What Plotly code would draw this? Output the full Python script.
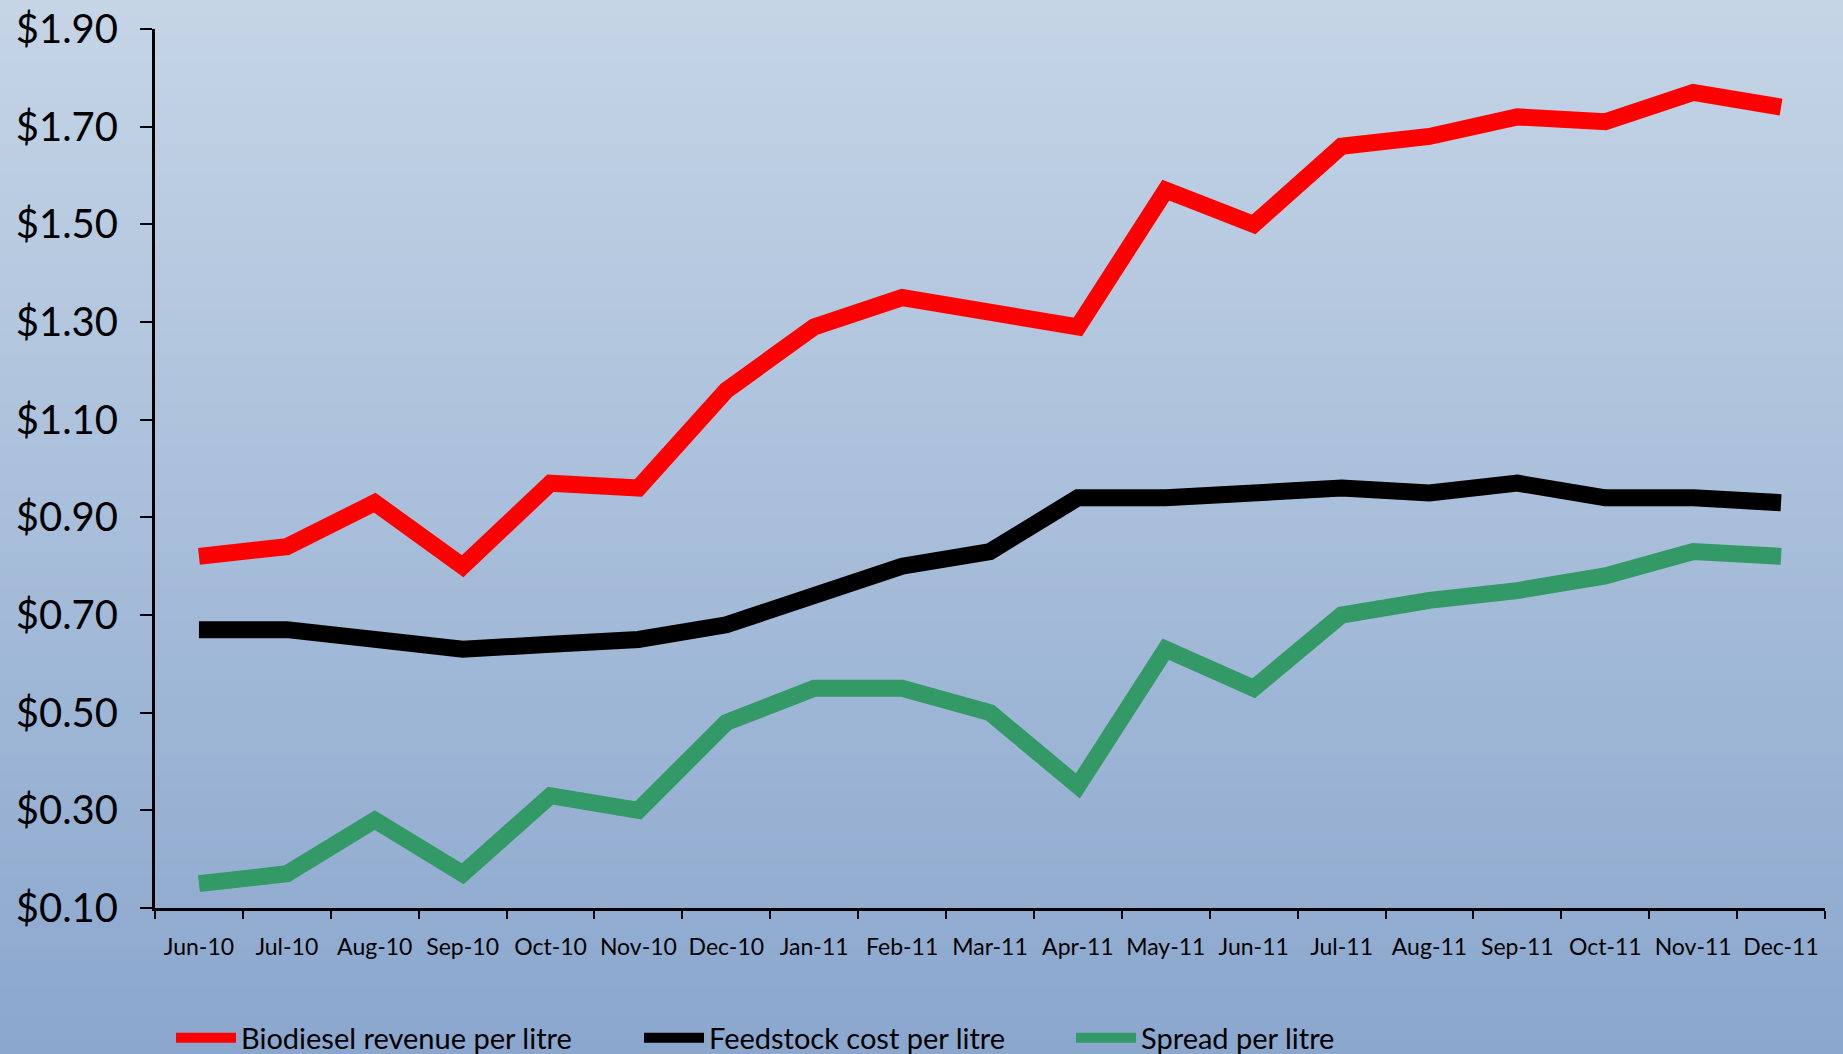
import plotly.graph_objects as go

months = ["Jun-10", "Jul-10", "Aug-10", "Sep-10", "Oct-10", "Nov-10", "Dec-10",
          "Jan-11", "Feb-11", "Mar-11", "Apr-11", "May-11", "Jun-11", "Jul-11",
          "Aug-11", "Sep-11", "Oct-11", "Nov-11", "Dec-11"]
revenue = [0.82, 0.84, 0.93, 0.80, 0.97, 0.96, 1.16, 1.29, 1.35, 1.32, 1.29,
           1.57, 1.50, 1.66, 1.68, 1.72, 1.71, 1.77, 1.74]
feedstock = [0.67, 0.67, 0.65, 0.63, 0.64, 0.65, 0.68, 0.74, 0.80, 0.83, 0.94,
             0.94, 0.95, 0.96, 0.95, 0.97, 0.94, 0.94, 0.93]
spread = [0.15, 0.17, 0.28, 0.17, 0.33, 0.30, 0.48, 0.55, 0.55, 0.50, 0.35,
          0.63, 0.55, 0.70, 0.73, 0.75, 0.78, 0.83, 0.82]
y_ticks = [0.10, 0.30, 0.50, 0.70, 0.90, 1.10, 1.30, 1.50, 1.70, 1.90]

W, H = 1843, 1054
L, R, T, B = 155, 18, 29, 146
pw, ph = W - L - R, H - T - B

FONT = "Lato"

fig = go.Figure()
series = [
    ("Biodiesel revenue per litre", revenue, "#FF0000", "legend", 176),
    ("Feedstock cost per litre", feedstock, "#000000", "legend2", 644),
    ("Spread per litre", spread, "#339966", "legend3", 1076),
]
for name, vals, col, lg, _ in series:
    fig.add_trace(go.Scatter(x=months, y=vals, mode="lines", name=name,
                             line=dict(color=col, width=17), legend=lg))

# gradient background
top = (197, 213, 230)
bot = (139, 167, 206)
n = 120
shapes = []
y_lo = -B / ph
y_hi = 1 + T / ph
for i in range(n):
    f = i / (n - 1)
    c = tuple(round(top[k] + (bot[k] - top[k]) * f) for k in range(3))
    y1 = y_hi - (y_hi - y_lo) * i / n
    y0 = y_hi - (y_hi - y_lo) * (i + 1) / n
    shapes.append(dict(type="rect", xref="paper", yref="paper",
                       x0=-L / pw - 0.01, x1=1 + R / pw + 0.01, y0=y0 - 0.002, y1=y1 + 0.002,
                       fillcolor="rgb(%d,%d,%d)" % c, line=dict(width=0), layer="below"))

leg_y = (H - B - 1038) / ph
legends = {}
for name, vals, col, lg, px in series:
    legends[lg] = dict(x=(px - L - 5) / pw, y=leg_y, xanchor="left", yanchor="middle",
                       orientation="h", bgcolor="rgba(0,0,0,0)",
                       font=dict(family=FONT, size=29, color="black"),
                       itemwidth=60, borderwidth=0)

fig.update_layout(
    width=W, height=H,
    margin=dict(l=L, r=R, t=T, b=B, pad=0, autoexpand=False),
    paper_bgcolor="rgb(170,190,218)",
    plot_bgcolor="rgba(0,0,0,0)",
    shapes=shapes,
    showlegend=True,
    xaxis=dict(type="category", range=[-0.5, len(months) - 0.5],
               showline=True, linecolor="black", linewidth=3,
               ticks="outside", tickson="boundaries", ticklen=8, tickwidth=2,
               tickcolor="black", showgrid=False, zeroline=False,
               tickangle=0,
               tickfont=dict(family=FONT, size=23, color="black"),
               ticklabelstandoff=16),
    yaxis=dict(range=[0.1, 1.9], tickvals=y_ticks, tickformat="$.2f",
               showline=True, linecolor="black", linewidth=3,
               ticks="outside", ticklen=12, tickwidth=2, tickcolor="black",
               showgrid=False, zeroline=False,
               tickfont=dict(family=FONT, size=40, color="black"),
               ticklabelstandoff=14),
    **legends,
)

fig.write_html("out.html", config={"displayModeBar": False},
               post_script="document.body.style.margin='0';document.body.style.overflow='hidden';")
